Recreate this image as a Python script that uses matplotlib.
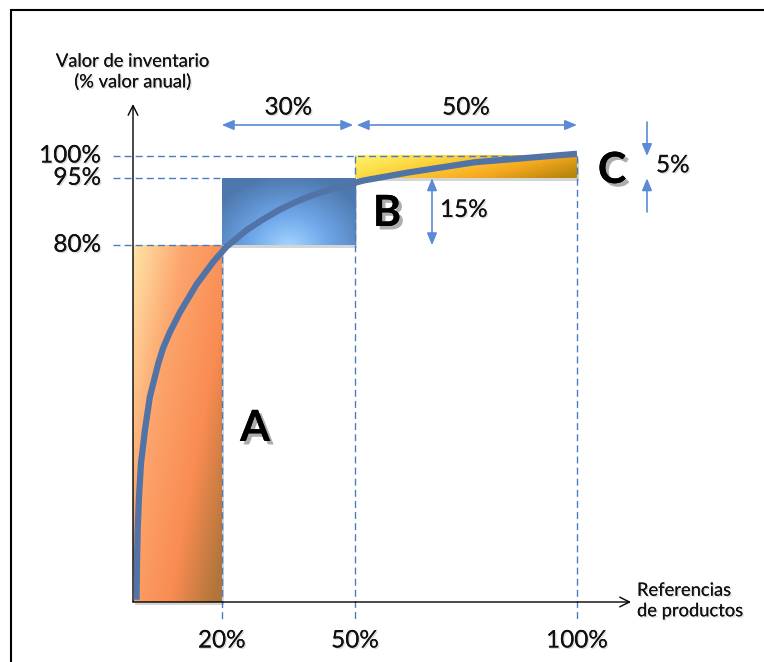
import numpy as np
import matplotlib.pyplot as plt
from matplotlib.colors import LinearSegmentedColormap
from matplotlib.patches import Rectangle
import matplotlib.patheffects as pe

plt.rcParams['font.family'] = ['Lato', 'DejaVu Sans']

# ABC classes: share of product references and share of inventory value (%)
classes = ['A', 'B', 'C']
item_share = [20, 30, 50]
value_share = [80, 15, 5]

# cumulative value curve
curve_x = [0.8, 0.9, 1.05, 1.35, 1.8, 2.7, 3.8, 5.7, 6.8, 8.3, 10.6, 14.3, 18.1, 21.1,
           25.6, 29.3, 33.1, 36.9, 40.6, 44.4, 48.1, 51.9, 62, 77, 100]
curve_y = [0.5, 8.7, 16.1, 23.6, 31.1, 38.6, 46, 53.5, 57.0, 60.5, 65.0, 71.2, 76.3, 79.7,
           83.4, 85.8, 88.0, 89.8, 91.3, 92.5, 93.5, 94.5, 96.3, 98.6, 100.5]

x_tick_labels = ['20%', '50%', '100%']
y_tick_labels = ['80%', '95%', '100%']
span_labels = ['30%', '50%']
y_title = 'Valor de inventario\n(% valor anual)'
x_title = 'Referencias\nde productos'

x_edges = np.cumsum([0] + item_share)
y_tops = np.cumsum(value_share)

DASH = '#4a7cc4'
ARROW = '#5b8ad6'
CURVE = '#5173a6'

# pixel mapping of the reference: origin at (133, 602)
X0, Y0, SX, SY = 133, 602, 4.44, 4.46
W, H = 764, 662


def px_x(p):
    return (p - X0) / SX


def px_y(p):
    return (Y0 - p) / SY


fig = plt.figure(figsize=(W / 100, H / 100), dpi=100)
ax = fig.add_axes([0, 0, 1, 1])
ax.axis('off')

# frame of the slide (only top and left edges visible)
fig.add_artist(Rectangle((11 / W, -0.1), 2, 1 - 10 / H + 0.1, transform=fig.transFigure,
                         fill=False, lw=1.5, ec='black'))

# gradient fills for the class rectangles
n = 120
u = np.linspace(0, 1, n)[None, :]
v = np.linspace(0, 1, n)[:, None]

cm_a = LinearSegmentedColormap.from_list('a', [(0, '#ffe4a8'), (0.35, '#fca46c'),
                                               (0.7, '#f98c52'), (1, '#b0753a')])
cm_b = LinearSegmentedColormap.from_list('b', [(0, '#a6d8ff'), (0.45, '#6fa7ea'),
                                               (1, '#4d78ad')])
cm_c = LinearSegmentedColormap.from_list('c', [(0, '#fff56a'), (0.35, '#fcd33c'),
                                               (0.7, '#f6a91f'), (1, '#b8860b')])

grad_a = cm_a(np.clip(0.6 * u + 0.45 * v, 0, 1))
grad_b = cm_b(np.clip(np.sqrt(((u - 0.5) / 0.65) ** 2 + ((v - 1.05) / 1.1) ** 2), 0, 1))
grad_c = cm_c(np.clip(0.75 * u + 0.3 * v, 0, 1))

y_bottoms = [0] + list(y_tops[:-1])
for i, grad in enumerate([grad_a, grad_b, grad_c]):
    x0, x1 = x_edges[i], x_edges[i + 1]
    y0, y1 = y_bottoms[i], y_tops[i]
    # soft shadow under each block
    ax.add_patch(Rectangle((x0 + 0.4, y0 - 0.6), x1 - x0, y1 - y0, fc='#888888',
                           alpha=0.35, lw=0, zorder=1.5))
    ax.imshow(grad, extent=(x0, x1, y0, y1), aspect='auto', interpolation='bilinear',
              zorder=2)

# dashed guide lines
dash = dict(color=DASH, lw=1, linestyle=(0, (5, 3)))
left_end = px_x(113)
below = px_y(620)
ax.plot([left_end, x_edges[3]], [y_tops[2]] * 2, zorder=3, **dash)
ax.plot([left_end, x_edges[1]], [y_tops[1]] * 2, zorder=1, **dash)
ax.plot([left_end, x_edges[1]], [y_tops[0]] * 2, zorder=3, **dash)
ax.plot([x_edges[1]] * 2, [y_tops[0], below], zorder=3, **dash)
ax.plot([x_edges[2]] * 2, [y_tops[2], below], zorder=3, **dash)
ax.plot([x_edges[3]] * 2, [y_tops[2], below], zorder=3, **dash)

# axes with open arrow heads
axis_arrow = dict(arrowstyle='->,head_length=0.7,head_width=0.35', lw=1, color='black',
                  shrinkA=0, shrinkB=0)
ax.annotate('', xy=(0, px_y(104)), xytext=(0, 0), arrowprops=axis_arrow, zorder=3)
ax.annotate('', xy=(px_x(631), 0), xytext=(0, 0), arrowprops=axis_arrow, zorder=3)

# cumulative curve
ax.plot(curve_x, curve_y, color=CURVE, lw=4.5, solid_capstyle='butt',
        solid_joinstyle='round', zorder=4)

# span arrows on top
span_y = px_y(125)
dbl = dict(arrowstyle='<|-|>,head_length=0.6,head_width=0.25', color=ARROW, lw=1.2,
           shrinkA=0, shrinkB=0, mutation_scale=12)
ax.annotate('', xy=(x_edges[1], span_y), xytext=(x_edges[2] - 0.4, span_y), arrowprops=dbl)
ax.annotate('', xy=(x_edges[2] + 0.4, span_y), xytext=(x_edges[3], span_y), arrowprops=dbl)

# 15% vertical arrow
b_x = px_x(432)
ax.annotate('', xy=(b_x, y_tops[1]), xytext=(b_x, y_tops[0]), arrowprops=dbl)

# 5% arrows pointing inward
c_x = px_x(647)
one = dict(arrowstyle='-|>,head_length=0.6,head_width=0.25', color=ARROW, lw=1.2,
           shrinkA=0, shrinkB=0, mutation_scale=12)
ax.annotate('', xy=(c_x, y_tops[2]), xytext=(c_x, px_y(122)), arrowprops=one)
ax.annotate('', xy=(c_x, y_tops[1]), xytext=(c_x, px_y(212)), arrowprops=one)

soft = [pe.withSimplePatchShadow(offset=(1, -1), shadow_rgbFace='#999999', alpha=0.35),
        pe.Normal()]
strong = [pe.withSimplePatchShadow(offset=(2.5, -2.5), shadow_rgbFace='#777777', alpha=0.6),
          pe.Normal()]

big = 17.5
for lab, yv in zip(y_tick_labels, y_tops):
    ax.text(px_x(101), yv, lab, ha='right', va='center', fontsize=big, color='#111111',
            path_effects=soft)
for lab, xv in zip(x_tick_labels, x_edges[1:]):
    ax.text(xv, px_y(641), lab, ha='center', va='center', fontsize=big, color='#111111',
            path_effects=soft)
for lab, a, b in zip(span_labels, x_edges[1:3], x_edges[2:4]):
    ax.text((a + b) / 2, px_y(108), lab, ha='center', va='center', fontsize=big,
            color='#111111', path_effects=soft)

ax.text(px_x(440), (y_tops[0] + y_tops[1]) / 2 + 0.3, f'{value_share[1]}%', ha='left',
        va='center', fontsize=big, color='#111111', path_effects=soft)
ax.text(px_x(656), (y_tops[1] + y_tops[2]) / 2 + 0.3, f'{value_share[2]}%', ha='left',
        va='center', fontsize=big, color='#111111', path_effects=soft)

ax.text(0, px_y(72), y_title, ha='center', va='center', fontsize=13.2, linespacing=1.35,
        color='#111111', path_effects=soft)
ax.text(px_x(637), px_y(601), x_title, ha='left', va='center', fontsize=13.2,
        linespacing=1.35, color='#111111', path_effects=soft)

letter_pos = [(px_x(255), px_y(428)), (px_x(387), px_y(213)), (px_x(612), px_y(170))]
for cls, (lx, ly) in zip(classes, letter_pos):
    ax.text(lx, ly, cls, ha='center', va='center', fontsize=31, fontweight='bold',
            color='black', path_effects=strong)

ax.set_xlim(px_x(0), px_x(W))
ax.set_ylim(px_y(H), px_y(0))

fig.savefig('out.png', dpi=100)
